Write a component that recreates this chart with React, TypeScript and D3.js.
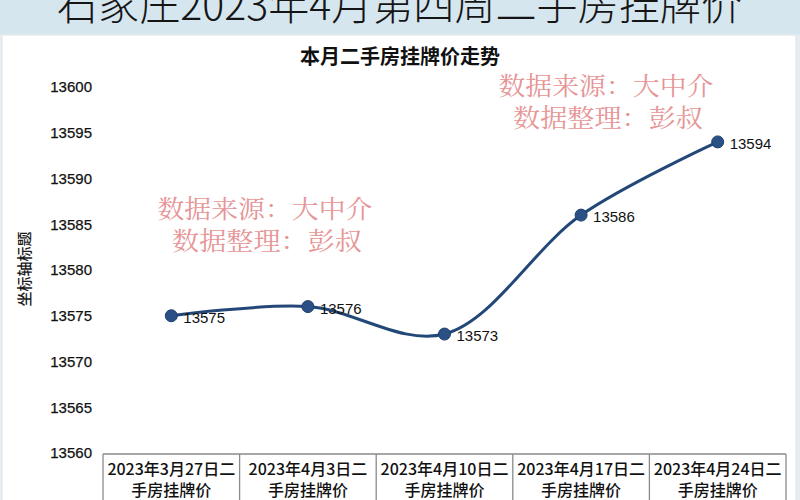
import { useEffect, useRef } from 'react'
import * as d3 from 'd3'

const categories = [
  '2023年3月27日二手房挂牌价',
  '2023年4月3日二手房挂牌价',
  '2023年4月10日二手房挂牌价',
  '2023年4月17日二手房挂牌价',
  '2023年4月24日二手房挂牌价',
]
const values = [13575, 13576, 13573, 13586, 13594]
const yTicks = [13560, 13565, 13570, 13575, 13580, 13585, 13590, 13595, 13600]

const pageTitle = '石家庄2023年4月第四周二手房挂牌价'
const chartTitle = '本月二手房挂牌价走势'
const yTitle = '坐标轴标题'
const watermark = ['数据来源：大中介', '数据整理：彭叔']

const CJK = '"Noto Sans CJK SC", "Noto Sans", sans-serif'
const LATIN = '"Liberation Sans", Arial, sans-serif'

export default function App() {
  const ref = useRef<SVGSVGElement>(null)

  useEffect(() => {
    if (!ref.current) return
    const svg = d3.select(ref.current)
    svg.selectAll('*').remove()

    const width = 800
    const height = 500
    svg.attr('viewBox', `0 0 ${width} ${height}`)
      .attr('width', width).attr('height', height)

    // Page background + header band + white panel
    svg.append('rect').attr('width', width).attr('height', height).attr('fill', '#e6ecf0')
    svg.append('rect').attr('width', width).attr('height', 34).attr('fill', '#d5e6ef')
    svg.append('rect')
      .attr('x', 2).attr('y', 35).attr('width', 794).attr('height', 470)
      .attr('fill', '#fff').attr('stroke', '#dde3e8')

    svg.append('text')
      .attr('x', 57).attr('y', 20)
      .attr('textLength', 685).attr('lengthAdjust', 'spacingAndGlyphs')
      .attr('font-family', CJK).attr('font-size', 42).attr('font-weight', 300)
      .attr('fill', '#151515')
      .text(pageTitle)

    svg.append('text')
      .attr('x', 400).attr('y', 64)
      .attr('text-anchor', 'middle')
      .attr('font-family', CJK).attr('font-size', 20).attr('font-weight', 'bold')
      .attr('fill', '#111')
      .text(chartTitle)

    // Scales
    const x = d3.scaleBand<string>().domain(categories).range([103, 786])
    const y = d3.scaleLinear().domain([13560, 13600]).range([453, 87])
    const cx = (c: string) => (x(c) ?? 0) + x.bandwidth() / 2

    // Y tick labels (no axis line)
    const yAxis = svg.append('g')
      .attr('transform', 'translate(92,0)')
      .call(d3.axisLeft(y).tickValues(yTicks).tickSize(0).tickPadding(0).tickFormat(d => `${d}`))
    yAxis.select('.domain').remove()
    yAxis.selectAll('text')
      .attr('font-family', LATIN).attr('font-size', 15).attr('fill', '#111')
      .attr('stroke', '#111').attr('stroke-width', 0.25)

    svg.append('text')
      .attr('transform', 'translate(30,269) rotate(-90)')
      .attr('text-anchor', 'middle')
      .attr('font-family', CJK).attr('font-size', 15).attr('font-weight', 500)
      .attr('fill', '#1a1a1a')
      .text(yTitle)

    // Category table
    const tableTop = 454
    svg.append('line')
      .attr('x1', 103).attr('x2', 786).attr('y1', tableTop).attr('y2', tableTop)
      .attr('stroke', '#8a8a8a').attr('stroke-width', 1.3)
    const bounds = [...categories.map(c => x(c) ?? 0), 786]
    svg.selectAll('line.cell')
      .data(bounds)
      .join('line')
      .attr('class', 'cell')
      .attr('x1', d => d).attr('x2', d => d)
      .attr('y1', tableTop).attr('y2', height)
      .attr('stroke', '#8a8a8a').attr('stroke-width', 1.3)

    const catText = svg.selectAll('text.cat')
      .data(categories)
      .join('text')
      .attr('class', 'cat')
      .attr('text-anchor', 'middle')
      .attr('font-family', CJK).attr('font-size', 16).attr('font-weight', 500)
      .attr('fill', '#111')
    catText.append('tspan')
      .attr('x', d => cx(d)).attr('y', 475)
      .text(d => d.slice(0, d.indexOf('手')))
    catText.append('tspan')
      .attr('x', d => cx(d)).attr('y', 496)
      .text(d => d.slice(d.indexOf('手')))

    // Watermarks
    const marks = [
      { x: 265, y: 218 },
      { x: 606, y: 95 },
    ]
    marks.forEach(m => {
      watermark.forEach((t, i) => {
        svg.append('text')
          .attr('x', m.x + (i ? 2 : 0)).attr('y', m.y + i * 32)
          .attr('text-anchor', 'middle')
          .attr('textLength', i ? 190 : 215).attr('lengthAdjust', 'spacingAndGlyphs')
          .attr('font-family', '"Noto Serif CJK SC", ' + CJK).attr('font-size', 25)
          .attr('fill', '#e48a8c').attr('opacity', 0.9)
          .text(t)
      })
    })

    // Line
    const pts = categories.map((c, i) => [cx(c), y(values[i])] as [number, number])
    svg.append('path')
      .attr('d', d3.line().curve(d3.curveCatmullRom.alpha(0.5))(pts))
      .attr('fill', 'none')
      .attr('stroke', '#234878')
      .attr('stroke-width', 3)

    svg.selectAll('circle')
      .data(pts)
      .join('circle')
      .attr('cx', d => d[0]).attr('cy', d => d[1])
      .attr('r', 6)
      .attr('fill', '#2b5086')
      .attr('stroke', '#1f3f6b').attr('stroke-width', 1)

    svg.selectAll('text.val')
      .data(values)
      .join('text')
      .attr('class', 'val')
      .attr('x', (_, i) => pts[i][0] + 12)
      .attr('y', (_, i) => pts[i][1] + 7)
      .attr('font-family', LATIN).attr('font-size', 15)
      .attr('fill', '#111')
      .text(d => d)
  }, [])

  return (
    <div style={{ position: 'absolute', left: 0, top: 0 }}>
      <svg ref={ref} style={{ display: 'block' }} />
    </div>
  )
}
